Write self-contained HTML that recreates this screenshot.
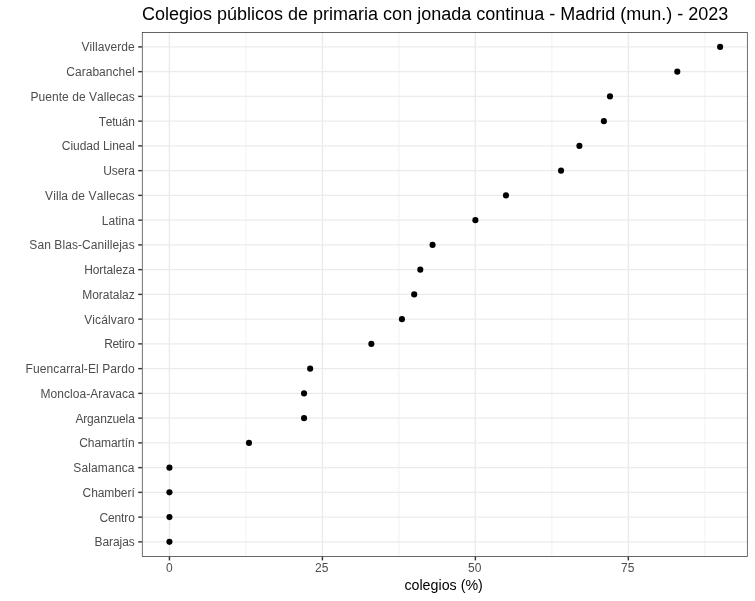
<!DOCTYPE html>
<html><head><meta charset="utf-8"><title>Colegios públicos de primaria con jonada continua - Madrid (mun.) - 2023</title>
<style>html,body{margin:0;padding:0;background:#fff;}svg{display:block;will-change:transform;}text{font-family:"Liberation Sans",Arial,sans-serif;}</style>
</head><body>
<svg width="755" height="601" viewBox="0 0 755 601">
<rect width="755" height="601" fill="#fff"/>
<line x1="245.92" y1="32.05" x2="245.92" y2="556.72" stroke="#EBEBEB" stroke-width="0.71"/>
<line x1="398.89" y1="32.05" x2="398.89" y2="556.72" stroke="#EBEBEB" stroke-width="0.71"/>
<line x1="551.87" y1="32.05" x2="551.87" y2="556.72" stroke="#EBEBEB" stroke-width="0.71"/>
<line x1="704.84" y1="32.05" x2="704.84" y2="556.72" stroke="#EBEBEB" stroke-width="0.71"/>
<line x1="169.44" y1="32.05" x2="169.44" y2="556.72" stroke="#EBEBEB" stroke-width="1.42"/>
<line x1="322.41" y1="32.05" x2="322.41" y2="556.72" stroke="#EBEBEB" stroke-width="1.42"/>
<line x1="475.38" y1="32.05" x2="475.38" y2="556.72" stroke="#EBEBEB" stroke-width="1.42"/>
<line x1="628.35" y1="32.05" x2="628.35" y2="556.72" stroke="#EBEBEB" stroke-width="1.42"/>
<line x1="141.9" y1="46.9" x2="747.67" y2="46.9" stroke="#EBEBEB" stroke-width="1.42"/>
<line x1="141.9" y1="71.65" x2="747.67" y2="71.65" stroke="#EBEBEB" stroke-width="1.42"/>
<line x1="141.9" y1="96.4" x2="747.67" y2="96.4" stroke="#EBEBEB" stroke-width="1.42"/>
<line x1="141.9" y1="121.14" x2="747.67" y2="121.14" stroke="#EBEBEB" stroke-width="1.42"/>
<line x1="141.9" y1="145.89" x2="747.67" y2="145.89" stroke="#EBEBEB" stroke-width="1.42"/>
<line x1="141.9" y1="170.64" x2="747.67" y2="170.64" stroke="#EBEBEB" stroke-width="1.42"/>
<line x1="141.9" y1="195.39" x2="747.67" y2="195.39" stroke="#EBEBEB" stroke-width="1.42"/>
<line x1="141.9" y1="220.14" x2="747.67" y2="220.14" stroke="#EBEBEB" stroke-width="1.42"/>
<line x1="141.9" y1="244.89" x2="747.67" y2="244.89" stroke="#EBEBEB" stroke-width="1.42"/>
<line x1="141.9" y1="269.64" x2="747.67" y2="269.64" stroke="#EBEBEB" stroke-width="1.42"/>
<line x1="141.9" y1="294.39" x2="747.67" y2="294.39" stroke="#EBEBEB" stroke-width="1.42"/>
<line x1="141.9" y1="319.13" x2="747.67" y2="319.13" stroke="#EBEBEB" stroke-width="1.42"/>
<line x1="141.9" y1="343.88" x2="747.67" y2="343.88" stroke="#EBEBEB" stroke-width="1.42"/>
<line x1="141.9" y1="368.63" x2="747.67" y2="368.63" stroke="#EBEBEB" stroke-width="1.42"/>
<line x1="141.9" y1="393.38" x2="747.67" y2="393.38" stroke="#EBEBEB" stroke-width="1.42"/>
<line x1="141.9" y1="418.13" x2="747.67" y2="418.13" stroke="#EBEBEB" stroke-width="1.42"/>
<line x1="141.9" y1="442.88" x2="747.67" y2="442.88" stroke="#EBEBEB" stroke-width="1.42"/>
<line x1="141.9" y1="467.63" x2="747.67" y2="467.63" stroke="#EBEBEB" stroke-width="1.42"/>
<line x1="141.9" y1="492.37" x2="747.67" y2="492.37" stroke="#EBEBEB" stroke-width="1.42"/>
<line x1="141.9" y1="517.12" x2="747.67" y2="517.12" stroke="#EBEBEB" stroke-width="1.42"/>
<line x1="141.9" y1="541.87" x2="747.67" y2="541.87" stroke="#EBEBEB" stroke-width="1.42"/>
<circle cx="720.13" cy="46.9" r="3.05"/>
<circle cx="677.3" cy="71.65" r="3.05"/>
<circle cx="610" cy="96.4" r="3.05"/>
<circle cx="603.88" cy="121.14" r="3.05"/>
<circle cx="579.4" cy="145.89" r="3.05"/>
<circle cx="561.04" cy="170.64" r="3.05"/>
<circle cx="505.97" cy="195.39" r="3.05"/>
<circle cx="475.38" cy="220.14" r="3.05"/>
<circle cx="432.55" cy="244.89" r="3.05"/>
<circle cx="420.31" cy="269.64" r="3.05"/>
<circle cx="414.19" cy="294.39" r="3.05"/>
<circle cx="401.95" cy="319.13" r="3.05"/>
<circle cx="371.36" cy="343.88" r="3.05"/>
<circle cx="310.17" cy="368.63" r="3.05"/>
<circle cx="304.05" cy="393.38" r="3.05"/>
<circle cx="304.05" cy="418.13" r="3.05"/>
<circle cx="248.98" cy="442.88" r="3.05"/>
<circle cx="169.44" cy="467.63" r="3.05"/>
<circle cx="169.44" cy="492.37" r="3.05"/>
<circle cx="169.44" cy="517.12" r="3.05"/>
<circle cx="169.44" cy="541.87" r="3.05"/>
<clipPath id="pc"><rect x="141.9" y="32.05" width="605.77" height="524.67"/></clipPath>
<rect clip-path="url(#pc)" x="141.9" y="32.05" width="605.77" height="524.67" fill="none" stroke="#333333" stroke-width="1.42"/>
<line x1="138.23" y1="46.9" x2="141.9" y2="46.9" stroke="#333333" stroke-width="1.42"/>
<line x1="138.23" y1="71.65" x2="141.9" y2="71.65" stroke="#333333" stroke-width="1.42"/>
<line x1="138.23" y1="96.4" x2="141.9" y2="96.4" stroke="#333333" stroke-width="1.42"/>
<line x1="138.23" y1="121.14" x2="141.9" y2="121.14" stroke="#333333" stroke-width="1.42"/>
<line x1="138.23" y1="145.89" x2="141.9" y2="145.89" stroke="#333333" stroke-width="1.42"/>
<line x1="138.23" y1="170.64" x2="141.9" y2="170.64" stroke="#333333" stroke-width="1.42"/>
<line x1="138.23" y1="195.39" x2="141.9" y2="195.39" stroke="#333333" stroke-width="1.42"/>
<line x1="138.23" y1="220.14" x2="141.9" y2="220.14" stroke="#333333" stroke-width="1.42"/>
<line x1="138.23" y1="244.89" x2="141.9" y2="244.89" stroke="#333333" stroke-width="1.42"/>
<line x1="138.23" y1="269.64" x2="141.9" y2="269.64" stroke="#333333" stroke-width="1.42"/>
<line x1="138.23" y1="294.39" x2="141.9" y2="294.39" stroke="#333333" stroke-width="1.42"/>
<line x1="138.23" y1="319.13" x2="141.9" y2="319.13" stroke="#333333" stroke-width="1.42"/>
<line x1="138.23" y1="343.88" x2="141.9" y2="343.88" stroke="#333333" stroke-width="1.42"/>
<line x1="138.23" y1="368.63" x2="141.9" y2="368.63" stroke="#333333" stroke-width="1.42"/>
<line x1="138.23" y1="393.38" x2="141.9" y2="393.38" stroke="#333333" stroke-width="1.42"/>
<line x1="138.23" y1="418.13" x2="141.9" y2="418.13" stroke="#333333" stroke-width="1.42"/>
<line x1="138.23" y1="442.88" x2="141.9" y2="442.88" stroke="#333333" stroke-width="1.42"/>
<line x1="138.23" y1="467.63" x2="141.9" y2="467.63" stroke="#333333" stroke-width="1.42"/>
<line x1="138.23" y1="492.37" x2="141.9" y2="492.37" stroke="#333333" stroke-width="1.42"/>
<line x1="138.23" y1="517.12" x2="141.9" y2="517.12" stroke="#333333" stroke-width="1.42"/>
<line x1="138.23" y1="541.87" x2="141.9" y2="541.87" stroke="#333333" stroke-width="1.42"/>
<line x1="169.44" y1="556.72" x2="169.44" y2="560.39" stroke="#333333" stroke-width="1.42"/>
<line x1="322.41" y1="556.72" x2="322.41" y2="560.39" stroke="#333333" stroke-width="1.42"/>
<line x1="475.38" y1="556.72" x2="475.38" y2="560.39" stroke="#333333" stroke-width="1.42"/>
<line x1="628.35" y1="556.72" x2="628.35" y2="560.39" stroke="#333333" stroke-width="1.42"/>
<text x="81.55 89.62 92.31 95 97.69 104.42 110.47 117.21 121.24 127.97" y="51" font-size="12" fill="#4D4D4D">Villaverde</text>
<text x="66.19 74.92 81.64 85.66 92.38 99.1 105.82 112.54 118.58 125.3 132.02" y="76" font-size="12" fill="#4D4D4D">Carabanchel</text>
<text x="30.52 38.58 45.3 52.03 58.75 62.11 68.84 72.19 78.92 85.64 89 97.07 103.79 106.48 109.16 115.89 121.93 128.65" y="101" font-size="12" fill="#4D4D4D">Puente de Vallecas</text>
<text x="98.63 105.71 112.15 115.37 121.81 128.26" y="126" font-size="12" fill="#4D4D4D">Tetuán</text>
<text x="61.79 70.4 73.05 79.68 86.31 92.94 99.57 102.88 109.51 112.16 118.79 125.42 132.05" y="150" font-size="12" fill="#4D4D4D">Ciudad Lineal</text>
<text x="103.27 111.78 117.67 124.22 128.15" y="175" font-size="12" fill="#4D4D4D">Usera</text>
<text x="45.05 53.2 55.91 58.63 61.34 68.14 71.53 78.33 85.12 88.52 96.67 103.46 106.18 108.89 115.69 121.8 128.59" y="200" font-size="12" fill="#4D4D4D">Villa de Vallecas</text>
<text x="101.82 108.53 115.24 118.59 121.28 127.99" y="225" font-size="12" fill="#4D4D4D">Latina</text>
<text x="29.36 37.46 44.22 50.97 54.35 62.45 65.15 71.91 77.98 82.03 90.8 97.56 104.32 107.01 109.71 112.41 119.17 121.87 128.63" y="249" font-size="12" fill="#4D4D4D">San Blas-Canillejas</text>
<text x="84.22 92.73 99.29 103.22 106.5 113.06 115.68 122.24 128.14" y="274" font-size="12" fill="#4D4D4D">Hortaleza</text>
<text x="82.22 92.17 98.82 102.8 109.45 112.77 119.42 122.08 128.72" y="299" font-size="12" fill="#4D4D4D">Moratalaz</text>
<text x="84.15 92.35 95.08 101.22 108.06 110.79 116.93 123.77 127.86" y="324" font-size="12" fill="#4D4D4D">Vicálvaro</text>
<text x="104.22 112.47 118.82 122 124.54 128.34" y="348" font-size="12" fill="#4D4D4D">Retiro</text>
<text x="25.52 32.97 39.75 46.54 53.33 59.43 66.21 70.28 74.34 81.13 83.84 87.9 96.04 98.75 102.14 110.28 117.06 121.13 127.91" y="373" font-size="12" fill="#4D4D4D">Fuencarral-El Pardo</text>
<text x="40.52 50.6 57.33 64.06 70.11 72.8 79.53 86.27 90.3 98.37 102.4 109.13 115.18 121.92 127.97" y="398" font-size="12" fill="#4D4D4D">Moncloa-Aravaca</text>
<text x="75.38 83.2 87.1 93.62 100.15 106.67 112.53 119.05 125.57 128.18" y="423" font-size="12" fill="#4D4D4D">Arganzuela</text>
<text x="79.19 87.78 94.39 101 110.91 117.52 121.48 124.78 128.09" y="447" font-size="12" fill="#4D4D4D">Chamartín</text>
<text x="73.26 81.45 88.28 91.01 97.84 108.07 114.9 121.73 127.87" y="472" font-size="12" fill="#4D4D4D">Salamanca</text>
<text x="82.59 91.16 97.76 104.36 114.25 120.85 127.45 131.4" y="497" font-size="12" fill="#4D4D4D">Chamberí</text>
<text x="99.59 108.04 114.54 121.05 124.3 128.19" y="522" font-size="12" fill="#4D4D4D">Centro</text>
<text x="94.57 102.46 109.04 112.99 119.57 122.2 128.78" y="546" font-size="12" fill="#4D4D4D">Barajas</text>
<text x="166" y="572" font-size="12" fill="#4D4D4D">0</text>
<text x="315 321.75" y="572" font-size="12" fill="#4D4D4D">25</text>
<text x="468 474.75" y="572" font-size="12" fill="#4D4D4D">50</text>
<text x="621 627.75" y="572" font-size="12" fill="#4D4D4D">75</text>
<text x="404.39 411.52 419.44 422.61 430.54 438.46 441.63 449.55 456.68 460.64 465.38 478.05" y="590" font-size="14.25" fill="#000">colegios (%)</text>
<text x="142 155 165.01 169.01 179.02 189.03 193.03 203.04 212.04 217.04 227.05 237.06 247.07 251.07 255.07 264.07 274.08 283.08 288.08 298.09 308.1 313.11 323.12 329.11 333.11 348.1 358.11 364.11 368.11 378.12 383.12 392.12 402.13 412.14 417.14 421.14 431.15 441.16 451.17 461.18 471.19 476.2 485.2 495.21 505.22 510.22 514.22 524.23 534.24 544.25 549.25 555.24 560.25 575.24 585.25 595.26 601.25 605.25 615.26 620.27 626.26 641.25 651.26 661.28 666.28 672.27 677.27 683.27 688.27 698.28 708.29 718.3" y="20" font-size="18" fill="#000">Colegios públicos de primaria con jonada continua - Madrid (mun.) - 2023</text>
</svg>
</body></html>
